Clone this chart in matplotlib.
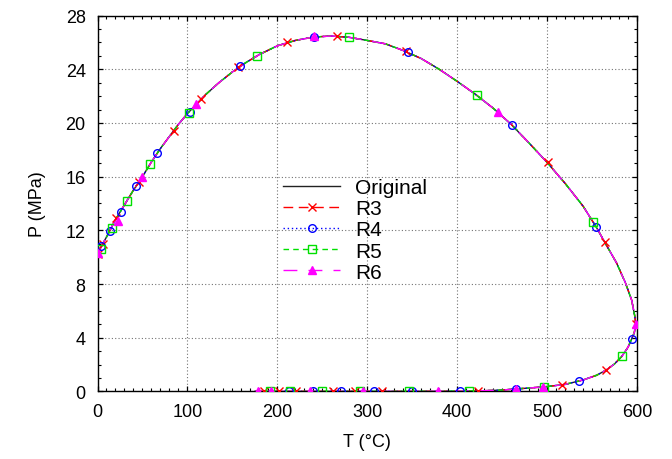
import numpy as np
import matplotlib
matplotlib.use("Agg")
import matplotlib.pyplot as plt
from matplotlib.ticker import MultipleLocator
from matplotlib.lines import Line2D

plt.rcParams['font.family'] = ['Liberation Sans', 'DejaVu Sans']

# phase envelope (T in degC, P in MPa), bubble side -> cricondentherm -> dew side
orig_T = [175, 200, 250, 300, 350, 390, 410, 430, 450, 465, 480, 500, 520, 540, 555,
          566, 575, 583, 590, 594, 597, 598.5, 597.5, 594, 587, 577, 565, 555, 540, 520,
          500, 480, 460, 440, 420, 400, 380, 360, 340, 320, 300, 280, 260, 240, 220,
          200, 180, 165, 150, 135, 120, 110, 100, 90, 80, 70, 60, 50, 40, 30,
          20, 10, 5, 0]
orig_P = [0.0, 0.0, 0.0, 0.0, 0.0, 0.01, 0.02, 0.05, 0.1, 0.18, 0.25, 0.36, 0.52, 0.85, 1.2,
          1.6, 2.05, 2.6, 3.3, 3.9, 4.4, 5.0, 5.6, 6.8, 8.1, 9.6, 11.0, 12.2, 13.8, 15.5,
          17.06, 18.5, 19.9, 21.1, 22.15, 23.1, 24.0, 24.8, 25.4, 25.9, 26.15, 26.38, 26.48, 26.4, 26.15,
          25.75, 25.1, 24.5, 23.8, 23.0, 22.1, 21.4, 20.7, 19.9, 19.0, 18.1, 17.1, 16.0, 15.0, 13.9,
          12.8, 11.5, 10.9, 10.25]

# reduced models (their lines fall on the original curve)
r3_T = [185, 202, 221, 262, 286, 316, 423, 517, 566, 598.5, 564, 501, 343, 266, 211, 156, 114.7, 84.6, 46, 21, 6, 0]
r3_P = [0.0, 0.0, 0.0, 0.0, 0.0, 0.0, 0.03, 0.5, 1.6, 5.0, 11.1, 17.06, 25.37, 26.49, 26.0, 24.2, 21.77, 19.4, 15.57, 12.9, 11.0, 10.25]

r4_T = [213, 239.5, 271.3, 308, 350, 403, 465, 535, 594, 554, 461, 345, 240.6, 158, 102.8, 66, 43, 26, 13.9, 3.9]
r4_P = [0.0, 0.0, 0.0, 0.0, 0.0, 0.01, 0.18, 0.75, 3.9, 12.22, 19.86, 25.27, 26.41, 24.25, 20.83, 17.75, 15.27, 13.34, 11.94, 10.8]

r5_T = [191.5, 214, 249.8, 291.7, 346.6, 413.4, 497, 583, 551, 422, 279.4, 177.6, 102, 58.7, 33, 15.7, 3.5]
r5_P = [0.0, 0.0, 0.0, 0.0, 0.0, 0.01, 0.35, 2.6, 12.64, 22.07, 26.37, 24.97, 20.78, 16.93, 14.15, 12.14, 10.6]

r6_T = [178, 193, 236, 295, 379, 465, 495, 598.5, 445, 240.6, 110, 49, 23, 1]
r6_P = [0.0, 0.0, 0.0, 0.0, 0.0, 0.18, 0.35, 5.0, 20.8, 26.45, 21.4, 15.94, 12.7, 10.3]

fig = plt.figure(figsize=(6.72, 4.6), dpi=100)
ax = fig.add_axes([0.1451, 0.147, 0.8029, 0.8169])

ax.plot(orig_T, orig_P, color='#222222', lw=1.0, zorder=2)

styles = [
    ('R3', r3_T, r3_P, '#ff0000', (7, 4), 'x', 'full'),
    ('R4', r4_T, r4_P, '#0000ff', (1, 2), 'o', 'none'),
    ('R5', r5_T, r5_P, '#00e000', (4, 3), 's', 'none'),
    ('R6', r6_T, r6_P, '#ff00ff', (10, 8), '^', 'full'),
]
handles = [Line2D([], [], color='#222222', lw=1.0, label='Original')]
for name, t, p, c, d, m, fill in styles:
    ax.plot(orig_T, orig_P, color=c, lw=1.0, dashes=d, zorder=3)
    mfc = c if fill == 'full' else 'none'
    ax.plot(t, p, ls='none', marker=m, ms=5.5, mfc=mfc, mec=c, mew=1.0, zorder=4)
    handles.append(Line2D([], [], color=c, lw=1.0, dashes=d, marker=m, ms=5.5,
                          mfc=mfc, mec=c, mew=1.0, label=name))

ax.set_xlim(0, 600)
ax.set_ylim(0, 28)
ax.xaxis.set_major_locator(MultipleLocator(100))
ax.xaxis.set_minor_locator(MultipleLocator(10))
ax.yaxis.set_major_locator(MultipleLocator(4))
ax.yaxis.set_minor_locator(MultipleLocator(1))
ax.tick_params(which='both', direction='in', top=True, right=True, labelsize=13, pad=8.5)
ax.tick_params(which='major', length=3.6, width=0.9)
ax.tick_params(which='minor', length=2.2, width=0.8)
ax.grid(True, which='major', color='0.45', ls=(0, (1, 2)), lw=0.8)
for s in ax.spines.values():
    s.set_linewidth(1.0)

ax.set_xlabel('T (\u00b0C)', fontsize=13, labelpad=9)
ax.set_ylabel('P (MPa)', fontsize=13, labelpad=14)

ax.legend(handles=handles, loc='upper left', bbox_to_anchor=(0.344, 0.567), frameon=False,
          fontsize=15, handlelength=2.75, handletextpad=0.7, labelspacing=0.1,
          borderpad=0, borderaxespad=0, numpoints=1)

fig.savefig('out.png', dpi=100)
